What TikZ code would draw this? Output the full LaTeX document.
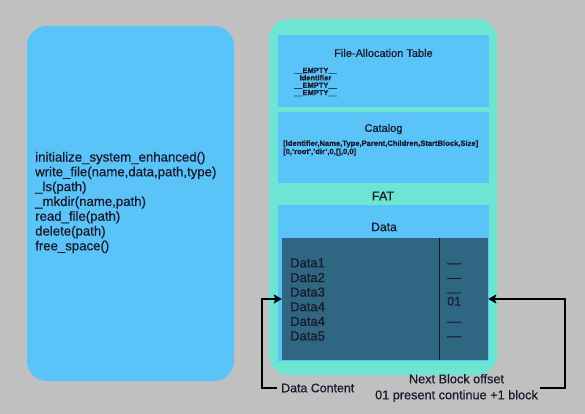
\documentclass[tikz,border=0pt]{standalone}
\usepackage{fontspec}
\setmainfont{Liberation Sans}[FakeBold=0.6]
\usetikzlibrary{arrows.meta}
\definecolor{bg}{HTML}{C0C0C0}
\definecolor{lblue}{HTML}{5AC4F8}
\definecolor{teal}{HTML}{6CE5D2}
\definecolor{dark}{HTML}{2F6782}
\definecolor{ink}{HTML}{1A1A2C}
\newcommand{\fs}[2]{\fontsize{#1}{#2}\selectfont}
\begin{document}
\begin{tikzpicture}[x=1pt,y=-1pt,
  panel/.style={fill=lblue,draw=none,rounded corners=20pt},
  outer/.style={fill=teal,draw=none,rounded corners=20pt},
  section/.style={fill=lblue,draw=none},
  darkbox/.style={fill=dark,draw=none},
  txt/.style={text=ink,inner sep=0pt},
  conn/.style={draw=black,line width=2.6pt,-{Stealth[length=8pt,width=9pt,inset=1.5pt]}}
]
\fill[bg] (0,0) rectangle (585,414);
\useasboundingbox (0,0) rectangle (585,414);

% left panel
\path[panel] (27,26) rectangle (234,381);
\node[txt,anchor=west,align=left,font=\fs{13.2}{14.8}] (api) at (35,202.5)
  {initialize\_system\_enhanced()\\write\_file(name,data,path,type)\\\_ls(path)\\\_mkdir(name,path)\\read\_file(path)\\delete(path)\\free\_space()};

% right outer
\path[outer] (269,19) rectangle (497,375);

% File allocation table
\path[section] (278,35) rectangle (489,107);
\node[txt,font=\fs{11}{13}] (fattitle) at (383.5,53) {File-Allocation Table};
\node[txt,align=center,font=\bfseries\fs{7.5}{7.4}] (fatlist) at (315.5,82)
  {\_\_EMPTY\_\_\\Identifier\\\_\_EMPTY\_\_\\\_\_EMPTY\_\_};

% Catalog
\path[section] (278,112) rectangle (489,183);
\node[txt,font=\fs{11}{13}] (cattitle) at (383.5,129) {Catalog};
\node[txt,anchor=west,align=left,font=\bfseries\fs{7.6}{8.2}] (catlist) at (283,148)
  {[Identifier,Name,Type,Parent,Children,StartBlock,Size]\\{}[0,'root','dir',0,[],0,0]};

% FAT label
\node[txt,font=\fs{12.7}{14}] (fatlabel) at (383,196) {FAT};

% Data
\path[section] (278,205) rectangle (489,361);
\node[txt,font=\fs{12.2}{13}] (datatitle) at (384,227) {Data};
\node[darkbox,minimum width=206pt,minimum height=122pt,inner sep=0pt] (darea) at (385,299) {};
\draw[ink,line width=0.8pt] (439,238) -- (439,360);
\node[txt,anchor=west,align=left,font=\fs{13}{14.6}] (rows) at (290,299.5)
  {Data1\\Data2\\Data3\\Data4\\Data4\\Data5};
\node[txt,anchor=west,align=left,font=\fs{12.5}{14.6}] (next) at (447,299.5)
  {\_\_\\\_\_\\\_\_\\01\\\_\_\\\_\_};

% labels and connectors
\node[txt,anchor=west,inner sep=4pt,font=\fs{12.4}{14}] (dc) at (277,388) {Data Content};
\node[txt,align=center,inner sep=2pt,font=\fs{12.7}{16}] (nb) at (456.5,388)
  {Next Block offset\\01 present continue +1 block};
\coordinate (lc) at (262,299);
\coordinate (rc) at (565,299);
\draw[conn] (dc.west) -| (lc) -- (lc -| darea.west);
\draw[conn] (nb.east) -| (rc) -- (rc -| darea.east);
\end{tikzpicture}
\end{document}
